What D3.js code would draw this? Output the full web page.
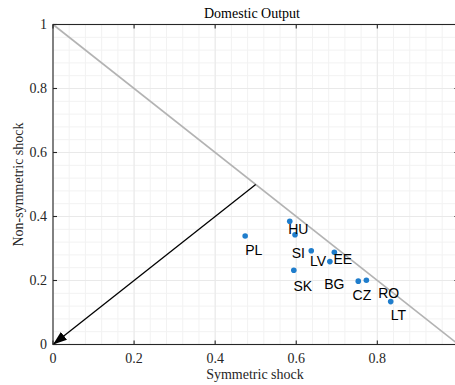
<!DOCTYPE html>
<html>
<head>
<meta charset="utf-8">
<script src="https://cdn.jsdelivr.net/npm/d3@7/dist/d3.min.js"></script>
<style>
  html, body { margin: 0; padding: 0; background: #fff; }
  svg { display: block; }
</style>
</head>
<body>
<script>
// Shock decomposition of domestic output by country
const countries = ["PL", "HU", "SI", "LV", "EE", "SK", "BG", "CZ", "RO", "LT"];
const symmetric    = [0.474, 0.584, 0.597, 0.637, 0.694, 0.594, 0.683, 0.753, 0.773, 0.833];
const nonSymmetric = [0.339, 0.385, 0.343, 0.293, 0.288, 0.232, 0.259, 0.198, 0.201, 0.134];
// where each country name is written (data units: left edge, vertical centre)
const labelX = [0.474, 0.580, 0.589, 0.634, 0.692, 0.593, 0.669, 0.739, 0.802, 0.833];
const labelY = [0.295, 0.361, 0.285, 0.261, 0.267, 0.183, 0.189, 0.156, 0.162, 0.091];

const xTicks = [0, 0.2, 0.4, 0.6, 0.8];
const yTicks = [0, 0.2, 0.4, 0.6, 0.8, 1];
const xMinor = d3.range(0, 1.0001, 0.04);
const yMinor = d3.range(0, 1.0001, 0.04);

const W = 455, H = 385;
const L = 53, T = 24.5, R = 458.4, B = 344.5;

const x = d3.scaleLinear().domain([0, 1]).range([L, R]);
const y = d3.scaleLinear().domain([0, 1]).range([B, T]);

const svg = d3.select("body").append("svg")
  .attr("width", W).attr("height", H)
  .style("background", "#fff");

const serif = "'Liberation Serif', 'Times New Roman', serif";
const sans = "'Liberation Sans', Arial, sans-serif";

// grid: minor then major
const grid = svg.append("g");
grid.selectAll(".vm").data(xMinor).join("line")
  .attr("x1", d => x(d)).attr("x2", d => x(d)).attr("y1", T).attr("y2", B)
  .attr("stroke", "#f2f2f2").attr("stroke-width", 1);
grid.selectAll(".hm").data(yMinor).join("line")
  .attr("y1", d => y(d)).attr("y2", d => y(d)).attr("x1", L).attr("x2", R)
  .attr("stroke", "#f2f2f2").attr("stroke-width", 1);
grid.selectAll(".vM").data(xTicks).join("line")
  .attr("x1", d => x(d)).attr("x2", d => x(d)).attr("y1", T).attr("y2", B)
  .attr("stroke", "#e9e9e9").attr("stroke-width", 1);
grid.selectAll(".hM").data(yTicks).join("line")
  .attr("y1", d => y(d)).attr("y2", d => y(d)).attr("x1", L).attr("x2", R)
  .attr("stroke", "#e9e9e9").attr("stroke-width", 1);

// boundary of the unit simplex: symmetric + non-symmetric = 1
svg.append("line")
  .attr("x1", x(0)).attr("y1", y(1)).attr("x2", x(1)).attr("y2", y(0))
  .attr("stroke", "#b3b3b3").attr("stroke-width", 1.6);

// arrow from the midpoint of the boundary to the origin
const defs = svg.append("defs");
defs.append("marker")
  .attr("id", "head").attr("viewBox", "0 0 14 10")
  .attr("refX", 14).attr("refY", 5)
  .attr("markerWidth", 14).attr("markerHeight", 10)
  .attr("markerUnits", "userSpaceOnUse")
  .attr("orient", "auto")
  .append("path").attr("d", "M0,0 L14,5 L0,10 Z").attr("fill", "#000");
svg.append("line")
  .attr("x1", x(0.5)).attr("y1", y(0.5)).attr("x2", x(0)).attr("y2", y(0))
  .attr("stroke", "#000").attr("stroke-width", 1.3)
  .attr("marker-end", "url(#head)");

// points
svg.append("g").selectAll("circle").data(countries).join("circle")
  .attr("cx", (d, i) => x(symmetric[i]))
  .attr("cy", (d, i) => y(nonSymmetric[i]))
  .attr("r", 2.8)
  .attr("fill", "#1f7dcc");

// country names
svg.append("g").selectAll("text").data(countries).join("text")
  .attr("x", (d, i) => x(labelX[i]))
  .attr("y", (d, i) => y(labelY[i]))
  .attr("dy", "0.36em")
  .attr("font-family", sans).attr("font-size", 14)
  .attr("fill", "#000")
  .text(d => d);

// axes box with inward ticks
const ax = svg.append("g").attr("stroke", "#262626").attr("stroke-width", 1.1).attr("fill", "none");
ax.append("rect").attr("x", L).attr("y", T).attr("width", R - L).attr("height", B - T);
const tk = 4;
ax.selectAll(".tb").data(xTicks).join("line")
  .attr("x1", d => x(d)).attr("x2", d => x(d)).attr("y1", B).attr("y2", B - tk);
ax.selectAll(".tt").data(xTicks).join("line")
  .attr("x1", d => x(d)).attr("x2", d => x(d)).attr("y1", T).attr("y2", T + tk);
ax.selectAll(".tl").data(yTicks).join("line")
  .attr("y1", d => y(d)).attr("y2", d => y(d)).attr("x1", L).attr("x2", L + tk);
ax.selectAll(".tr").data(yTicks).join("line")
  .attr("y1", d => y(d)).attr("y2", d => y(d)).attr("x1", R).attr("x2", R - tk);

const fmt = d => d3.format("~g")(d);

svg.append("g").selectAll("text").data(xTicks).join("text")
  .attr("x", d => x(d)).attr("y", 363)
  .attr("text-anchor", "middle")
  .attr("font-family", serif).attr("font-size", 14).attr("fill", "#262626")
  .text(fmt);

svg.append("g").selectAll("text").data(yTicks).join("text")
  .attr("x", 47).attr("y", d => y(d))
  .attr("dy", "0.34em")
  .attr("text-anchor", "end")
  .attr("font-family", serif).attr("font-size", 14).attr("fill", "#262626")
  .text(fmt);

// title and axis labels
svg.append("text")
  .attr("x", 252).attr("y", 18)
  .attr("text-anchor", "middle")
  .attr("font-family", serif).attr("font-size", 14).attr("fill", "#000")
  .text("Domestic Output");

svg.append("text")
  .attr("x", 255).attr("y", 379)
  .attr("text-anchor", "middle")
  .attr("font-family", serif).attr("font-size", 14).attr("fill", "#262626")
  .text("Symmetric shock");

svg.append("text")
  .attr("transform", `translate(22.5, ${(T + B) / 2}) rotate(-90)`)
  .attr("text-anchor", "middle")
  .attr("font-family", serif).attr("font-size", 14).attr("fill", "#262626")
  .text("Non-symmetric shock");
</script>
</body>
</html>
